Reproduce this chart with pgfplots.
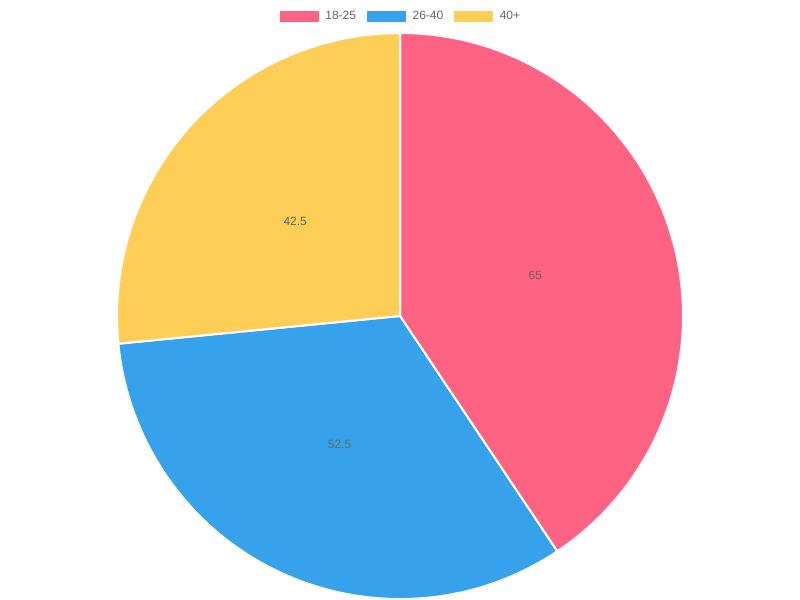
\documentclass[border=0pt]{standalone}
\usepackage{pgfplots}
\pgfplotsset{compat=1.18}
\usetikzlibrary{calc}
\usepackage{fontspec}
\setmainfont{Liberation Sans}
\definecolor{pieA}{RGB}{255,99,132}
\definecolor{pieB}{RGB}{54,162,235}
\definecolor{pieC}{RGB}{255,206,86}
\definecolor{txt}{RGB}{102,102,102}
% data
\def\vA{65}\def\vB{52.5}\def\vC{42.5}
\pgfmathsetmacro\total{\vA+\vB+\vC}
\pgfmathsetmacro\aA{90}
\pgfmathsetmacro\aB{\aA-\vA/\total*360}
\pgfmathsetmacro\aC{\aB-\vB/\total*360}
\pgfmathsetmacro\aD{\aC-\vC/\total*360}
\pgfmathsetmacro\mA{(\aA+\aB)/2}
\pgfmathsetmacro\mB{(\aB+\aC)/2}
\pgfmathsetmacro\mC{(\aC+\aD)/2}
\begin{document}
\begin{tikzpicture}
\begin{axis}[
  at={(0,0)}, anchor=south west,
  width=600pt, height=450pt, scale only axis,
  xmin=0, xmax=800, ymin=0, ymax=600,
  hide axis, clip=false,
  legend columns=3,
  legend image code/.code={\fill[#1] (0pt,-3.75pt) rectangle (28.5pt,3.75pt);},
  legend style={at={(0.5,0.97333)}, anchor=center, draw=none, fill=none,
    inner sep=0pt, font=\fontsize{9}{11}\selectfont, text=txt,
    nodes={inner sep=0pt},
    column sep=5.25pt,
    /tikz/column 2/.style={column sep=8.25pt},
    /tikz/column 4/.style={column sep=8.25pt}},
]
\fill[pieA, draw=white, line width=1.5pt] (axis cs:400,284) -- ++(\aA:212.25pt) arc[start angle=\aA, end angle=\aB, radius=212.25pt] -- cycle;
\fill[pieB, draw=white, line width=1.5pt] (axis cs:400,284) -- ++(\aB:212.25pt) arc[start angle=\aB, end angle=\aC, radius=212.25pt] -- cycle;
\fill[pieC, draw=white, line width=1.5pt] (axis cs:400,284) -- ++(\aC:212.25pt) arc[start angle=\aC, end angle=\aD, radius=212.25pt] -- cycle;
\node[text=txt, font=\fontsize{9}{11}\selectfont] at ($(axis cs:400,284)+(\mA:106.1pt)$) {65};
\node[text=txt, font=\fontsize{9}{11}\selectfont] at ($(axis cs:400,284)+(\mB:106.1pt)$) {52.5};
\node[text=txt, font=\fontsize{9}{11}\selectfont] at ($(axis cs:400,284)+(\mC:106.1pt)$) {42.5};
\addlegendimage{pieA}\addlegendentry{18-25}
\addlegendimage{pieB}\addlegendentry{26-40}
\addlegendimage{pieC}\addlegendentry{40+}
\end{axis}
\pgfresetboundingbox
\path (0,0) rectangle (600pt,450pt);
\end{tikzpicture}
\end{document}
